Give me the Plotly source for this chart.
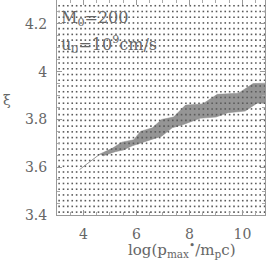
import numpy as np
import plotly.graph_objects as go

# sampling grid of the computation (dots)
grid_x = np.arange(3.08, 10.84, 0.165)
grid_y = np.arange(3.412, 4.295, 0.024)

# allowed region (shaded band), upper and lower edges
upper_x = [4.62, 5.1, 5.45, 5.9, 6.15, 6.6, 6.95, 7.4, 7.85, 8.5, 9.05, 9.85, 10.4, 10.85]
upper_y = [3.655, 3.68, 3.705, 3.715, 3.75, 3.765, 3.80, 3.81, 3.86, 3.865, 3.905, 3.91, 3.95, 3.952]
lower_x = [10.85, 10.55, 10.1, 9.45, 9.0, 8.4, 7.8, 7.35, 6.95, 6.4, 5.85, 5.5, 5.2, 4.75]
lower_y = [3.868, 3.868, 3.835, 3.828, 3.81, 3.805, 3.78, 3.765, 3.73, 3.71, 3.69, 3.672, 3.665, 3.648]
tip_x = [3.85, 4.62]
tip_y = [3.59, 3.655]

x_ticks = [4, 6, 8, 10]
y_ticks = [3.4, 3.6, 3.8, 4.0, 4.2]
y_ticklabels = ["3.4", "3.6", "3.8", "4", "4.2"]

FONT = "DejaVu Serif"
TXT = "#666666"

gx, gy = np.meshgrid(grid_x, grid_y)

fig = go.Figure()
fig.add_trace(go.Scatter(
    x=upper_x + lower_x + [upper_x[0]], y=upper_y + lower_y + [upper_y[0]],
    mode="lines", fill="toself", fillcolor="#959595",
    line=dict(color="#8a8a8a", width=0.5), hoverinfo="skip"))
fig.add_trace(go.Scatter(x=tip_x, y=tip_y, mode="lines",
                         line=dict(color="#999999", width=1), hoverinfo="skip"))
fig.add_trace(go.Scatter(
    x=gx.ravel(), y=gy.ravel(), mode="markers",
    marker=dict(symbol="square", size=1.6, color="#5a5a5a", line=dict(width=0)),
    hoverinfo="skip"))

axis_common = dict(showgrid=False, zeroline=False, showline=True, linecolor="#999999",
                   linewidth=1, mirror="allticks", ticks="inside", ticklen=5,
                   automargin=False,
                   tickcolor="#999999", tickfont=dict(family=FONT, size=14, color=TXT))
fig.update_xaxes(range=[3, 10.85], tickvals=x_ticks, ticklabelstandoff=6,
                 minor=dict(dtick=0.5, ticks="inside", ticklen=3, tickcolor="#aaaaaa"),
                 **axis_common)
fig.update_yaxes(range=[3.4, 4.3], tickvals=y_ticks, ticktext=y_ticklabels,
                 ticklabelstandoff=6,
                 minor=dict(dtick=0.05, ticks="inside", ticklen=3, tickcolor="#aaaaaa"),
                 **axis_common)

fig.add_annotation(text="M<sub>0</sub>=200", xref="paper", yref="paper", x=0.01, y=0.916,
                   xanchor="left", yanchor="middle", showarrow=False,
                   font=dict(family=FONT, size=16, color=TXT))
fig.add_annotation(text="u<sub>0</sub>=10<sup>9</sup>cm/s", xref="paper", yref="paper",
                   x=0.01, y=0.795, xanchor="left", yanchor="middle", showarrow=False,
                   font=dict(family=FONT, size=16, color=TXT))
fig.add_annotation(text="log(p<sub>max</sub><sup>•</sup>/m<sub>p</sub>c)", xref="paper",
                   yref="paper", x=0.6, y=-0.1, xanchor="center", yanchor="top",
                   showarrow=False, font=dict(family=FONT, size=15, color=TXT))
fig.add_annotation(text="ξ", xref="paper", yref="paper", x=-0.24, y=0.535,
                   xanchor="center", yanchor="middle", showarrow=False,
                   font=dict(family=FONT, size=14, color=TXT))

fig.update_layout(width=273, height=261, margin=dict(l=57, r=8, t=0, b=46),
                  paper_bgcolor="white", plot_bgcolor="white", showlegend=False)
fig.write_html("out.html", config={"displayModeBar": False},
               post_script="document.body.style.margin='0';document.body.style.overflow='hidden';")
